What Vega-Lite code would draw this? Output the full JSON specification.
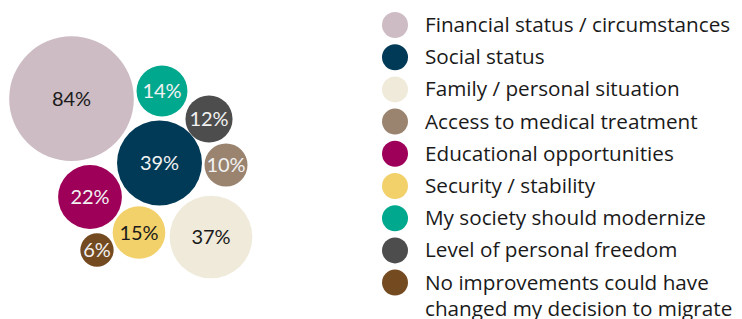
{
  "$schema": "https://vega.github.io/schema/vega-lite/v6.json",
  "width": 742,
  "height": 319,
  "padding": 0,
  "autosize": {"type": "none"},
  "background": "white",
  "config": {"view": {"stroke": null}, "font": "Lato"},
  "data": {
    "values": [
      {"name": "Financial status / circumstances", "value": 84, "label": "84%", "x": 71.5, "y": 98.7},
      {"name": "Social status", "value": 39, "label": "39%", "x": 159.5, "y": 163},
      {"name": "Family / personal situation", "value": 37, "label": "37%", "x": 211, "y": 237},
      {"name": "Access to medical treatment", "value": 10, "label": "10%", "x": 226, "y": 165},
      {"name": "Educational opportunities", "value": 22, "label": "22%", "x": 90, "y": 197},
      {"name": "Security / stability", "value": 15, "label": "15%", "x": 139, "y": 232.5},
      {"name": "My society should modernize", "value": 14, "label": "14%", "x": 162, "y": 91},
      {"name": "Level of personal freedom", "value": 12, "label": "12%", "x": 209, "y": 119},
      {"name": "No improvements could have changed my decision to migrate", "value": 6, "label": "6%", "x": 97, "y": 250}
    ]
  },
  "encoding": {
    "x": {"field": "x", "type": "quantitative", "scale": {"domain": [0, 742]}, "axis": null},
    "y": {"field": "y", "type": "quantitative", "scale": {"domain": [0, 319], "reverse": true}, "axis": null}
  },
  "layer": [
    {
      "mark": {"type": "circle", "opacity": 1},
      "encoding": {
        "size": {"field": "value", "type": "quantitative", "scale": {"type": "linear", "domain": [0, 84], "range": [0, 15540]}, "legend": null},
        "color": {
          "field": "name",
          "type": "nominal",
          "sort": null,
          "scale": {
            "domain": ["Financial status / circumstances", "Social status", "Family / personal situation", "Access to medical treatment", "Educational opportunities", "Security / stability", "My society should modernize", "Level of personal freedom", "No improvements could have changed my decision to migrate"],
            "range": ["#CDBCC4", "#003A57", "#EFEADA", "#9A8470", "#9E0059", "#F2D16B", "#00A88E", "#4D4D4D", "#744A21"]
          },
          "legend": {
            "orient": "none",
            "legendX": 382,
            "legendY": 12,
            "title": null,
            "padding": 0,
            "symbolType": "circle",
            "symbolSize": 676,
            "symbolOpacity": 1,
            "symbolStrokeWidth": 0,
            "labelFont": "Open Sans",
            "labelFontSize": 20.7,
            "labelColor": "#1a1a1a",
            "labelOffset": 17,
            "labelLimit": 400,
            "rowPadding": 6.2,
            "labelExpr": "datum.label == 'No improvements could have changed my decision to migrate' ? ['No improvements could have', 'changed my decision to migrate'] : datum.label",
            "encode": {
              "labels": {
                "update": {
                  "lineHeight": {"value": 26},
                  "dy": {"value": 1}
                }
              }
            }
          }
        }
      }
    },
    {
      "mark": {"type": "text", "font": "Lato", "fontSize": 20, "baseline": "middle", "align": "center", "dy": 1},
      "encoding": {
        "text": {"field": "label", "type": "nominal"},
        "color": {
          "condition": {"test": "indexof(['Financial status / circumstances', 'Security / stability', 'Family / personal situation'], datum.name) >= 0", "value": "#1a1a1a"},
          "value": "#F2F2F2"
        }
      }
    }
  ]
}
